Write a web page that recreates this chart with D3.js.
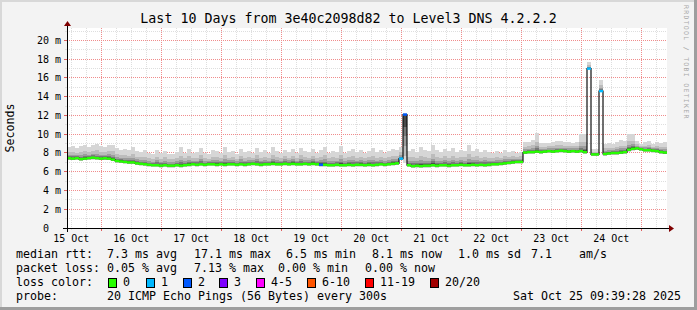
<!DOCTYPE html>
<html>
<head>
<meta charset="utf-8">
<script src="https://cdn.jsdelivr.net/npm/d3@7"></script>
<style>
body{margin:0;background:#f3f3f3;}
svg{display:block;}
text{font-family:"DejaVu Sans Mono",monospace;}
</style>
</head>
<body>
<svg id="chart" width="697" height="310"></svg>
<script>
var title = "Last 10 Days from 3e40c2098d82 to Level3 DNS 4.2.2.2";
var startTime = Date.UTC(2025, 9, 15, 10, 18);
var endTime = Date.UTC(2025, 9, 25, 10, 18);
var stepMinutes = 96;

// median rtt in ms, one value per step
var median = [
  7.45,7.4,7.45,7.35,7.4,7.45,7.5,7.45,7.4,7.45,7.4,7.3,7.15,7.1,7.05,
  7.0,7.0,6.9,6.85,6.8,6.75,6.7,6.7,6.65,6.7,6.65,6.65,6.7,6.65,6.7,
  6.75,6.8,6.75,6.8,6.75,6.8,6.8,6.75,6.8,6.75,6.8,6.8,6.75,6.8,6.75,
  6.8,6.85,6.8,6.75,6.8,6.8,6.85,6.8,6.8,6.85,6.8,6.85,6.8,6.8,6.85,
  6.8,6.85,6.8,6.75,6.75,6.7,6.7,6.75,6.7,6.7,6.75,6.7,6.75,6.75,6.7,
  6.75,6.7,6.75,6.8,6.75,6.8,6.85,6.9,7.4,12.1,6.7,6.6,6.65,6.6,6.65,
  6.65,6.7,6.65,6.7,6.7,6.65,6.7,6.7,6.75,6.7,6.7,6.75,6.7,6.75,6.7,
  6.75,6.8,6.8,6.85,6.9,6.95,7.0,7.05,7.05,8.05,8.1,8.1,8.15,8.1,8.15,
  8.2,8.15,8.2,8.25,8.2,8.15,8.2,8.15,8.2,8.1,17.0,7.85,7.85,14.6,7.9,
  7.95,8.0,8.0,8.05,8.1,8.35,8.45,8.5,8.4,8.3,8.3,8.25,8.2,8.1,8.05
];
// upper edge of the smoke (slowest pings)
var smokeTop = [
  8.6,8.7,8.5,8.7,8.9,8.6,8.8,9.0,8.7,8.6,8.8,8.9,8.5,8.3,8.4,
  8.3,8.6,8.2,8.1,8.3,8.0,7.9,8.3,8.0,8.2,7.9,7.9,8.1,8.6,8.0,
  8.4,8.0,8.1,8.5,8.0,7.9,8.3,8.2,8.0,8.6,8.1,8.2,7.9,8.4,8.1,
  8.2,8.0,8.5,8.1,8.3,8.0,8.6,8.2,8.0,8.3,8.1,8.4,8.0,8.5,8.2,
  8.1,8.4,8.0,8.3,8.6,8.0,8.2,8.1,8.7,8.0,8.2,8.4,8.1,8.3,8.0,
  8.2,8.5,8.1,8.3,8.0,8.2,8.4,8.3,8.6,12.3,8.2,8.4,8.1,8.6,8.3,
  8.2,8.9,8.3,8.1,8.4,8.2,8.5,8.1,8.3,8.2,8.8,8.2,8.4,8.1,8.3,
  8.1,8.0,8.2,8.0,8.3,8.1,8.2,8.0,8.1,9.2,9.2,9.4,10.1,9.1,9.1,
  9.1,9.2,9.3,9.3,9.2,9.2,9.1,9.2,10.0,10.0,17.7,8.4,8.4,15.8,9.0,
  9.1,9.0,9.2,9.4,9.3,10.0,10.0,9.3,9.0,9.2,9.3,9.0,9.2,9.1,9.2
];
// lower edge of the smoke (fastest pings)
var smokeLow = [
  7.2,7.2,7.25,7.15,7.2,7.25,7.3,7.25,7.2,7.2,7.2,7.1,6.95,6.9,6.85,
  6.8,6.8,6.7,6.65,6.6,6.55,6.5,6.5,6.45,6.5,6.45,6.45,6.5,6.45,6.5,
  6.55,6.6,6.55,6.6,6.55,6.6,6.6,6.55,6.6,6.55,6.6,6.6,6.55,6.6,6.55,
  6.6,6.65,6.6,6.55,6.6,6.6,6.65,6.6,6.6,6.65,6.6,6.65,6.6,6.6,6.65,
  6.6,6.65,6.6,6.55,6.55,6.5,6.5,6.55,6.5,6.5,6.55,6.5,6.55,6.55,6.5,
  6.55,6.5,6.55,6.6,6.55,6.6,6.65,6.7,7.2,6.9,6.5,6.4,6.45,6.4,6.45,
  6.45,6.5,6.45,6.5,6.5,6.45,6.5,6.5,6.55,6.5,6.5,6.55,6.5,6.55,6.5,
  6.55,6.6,6.6,6.65,6.7,6.75,6.8,6.85,6.85,7.85,7.9,7.9,7.95,7.9,7.95,
  8.0,7.95,8.0,8.05,8.0,7.95,8.0,7.95,8.0,7.9,17.0,7.65,7.65,14.6,7.7,
  7.75,7.8,7.8,7.85,7.9,8.15,8.25,8.3,8.2,8.1,8.1,8.05,8.0,7.9,7.85
];
// [step index, pings lost]
var lossEvents = [[63, 2], [83, 1], [84, 2], [130, 1], [133, 1]];

var lossLabels = ["0", "1", "2", "3", "4-5", "6-10", "11-19", "20/20"];
var lossColors = ["#26ff00", "#00b8ff", "#0059ff", "#7e00ff", "#ff00ff", "#ff5500", "#ff0000", "#a10000"];
var lossUpper = [0, 1, 2, 3, 5, 10, 19, 20];

var yMajorTicks = [2, 4, 6, 8, 10, 12, 14, 16, 18, 20];
var yMinorTicks = [1, 3, 5, 7, 9, 11, 13, 15, 17, 19, 21];

var rttStats = ["median rtt:", "7.3 ms avg", "17.1 ms max", "6.5 ms min", "8.1 ms now", "1.0 ms sd", "7.1", "am/s"];
var lossStats = ["packet loss:", "0.05 % avg", "7.13 % max", "0.00 % min", "0.00 % now"];
var probeInfo = ["probe:", "20 ICMP Echo Pings (56 Bytes) every 300s", "Sat Oct 25 09:39:28 2025"];

var svg = d3.select("#chart");
var W = 697, H = 310;
var X0 = 67, X1 = 667, Y0 = 228, Y1 = 28;

var x = d3.scaleUtc().domain([startTime, endTime]).range([X0, X1]);
var y = d3.scaleLinear().domain([0, 21.333]).range([Y0, Y1]);

//背景和边框
svg.append("rect").attr("width", W).attr("height", H).attr("fill", "#f3f3f3");
svg.append("rect").attr("x", 0).attr("y", 0).attr("width", W).attr("height", 2).attr("fill", "#d8d8d8");
svg.append("rect").attr("x", 0).attr("y", 0).attr("width", 2).attr("height", H).attr("fill", "#d8d8d8");
svg.append("rect").attr("x", W - 3).attr("y", 0).attr("width", 3).attr("height", H).attr("fill", "#9e9e9e");
svg.append("rect").attr("x", 0).attr("y", H - 3).attr("width", W).attr("height", 3).attr("fill", "#9e9e9e");

svg.append("rect")
  .attr("x", X0).attr("y", Y1)
  .attr("width", X1 - X0).attr("height", Y0 - Y1)
  .attr("fill", "#ffffff");

var grid = svg.append("g").attr("shape-rendering", "crispEdges");
function vx(t) { return Math.round(x(t)) + 0.5; }
function hy(v) { return Math.floor(y(v)) + 0.5; }

// minor grid, 6 hours / 1 ms
var sixHours = d3.utcHour.every(6).range(new Date(startTime), new Date(endTime))
  .filter(function (d) { return d.getUTCHours() !== 0; });
grid.selectAll(".vmin").data(sixHours).enter().append("line")
  .attr("x1", vx).attr("x2", vx).attr("y1", Y1).attr("y2", Y0)
  .attr("stroke", "#dedede").attr("stroke-dasharray", "1,1");
grid.selectAll(".hmin").data(yMinorTicks).enter().append("line")
  .attr("x1", X0).attr("x2", X1).attr("y1", hy).attr("y2", hy)
  .attr("stroke", "#dedede").attr("stroke-dasharray", "1,1");
grid.selectAll(".vmint").data(sixHours).enter().append("line")
  .attr("x1", vx).attr("x2", vx).attr("y1", Y0).attr("y2", Y0 + 2)
  .attr("stroke", "#dedede");
grid.selectAll(".hmint").data(yMinorTicks).enter().append("line")
  .attr("x1", X0 - 2).attr("x2", X0).attr("y1", hy).attr("y2", hy)
  .attr("stroke", "#dedede");

// major grid, days / 2 ms
var days = d3.utcDay.range(new Date(startTime), new Date(endTime));
grid.selectAll(".vmaj").data(days).enter().append("line")
  .attr("x1", vx).attr("x2", vx).attr("y1", Y1).attr("y2", Y0)
  .attr("stroke", "#f08c8c").attr("stroke-dasharray", "1,1");
grid.selectAll(".hmaj").data(yMajorTicks).enter().append("line")
  .attr("x1", X0).attr("x2", X1).attr("y1", hy).attr("y2", hy)
  .attr("stroke", "#f08c8c").attr("stroke-dasharray", "1,1");
grid.selectAll(".vmajt").data(days).enter().append("line")
  .attr("x1", vx).attr("x2", vx).attr("y1", Y0).attr("y2", Y0 + 3)
  .attr("stroke", "#e06060");
grid.selectAll(".hmajt").data(yMajorTicks).enter().append("line")
  .attr("x1", X0 - 3).attr("x2", X0).attr("y1", hy).attr("y2", hy)
  .attr("stroke", "#e06060");

//烟雾
var samples = median.map(function (m, i) {
  return {
    t0: startTime + i * stepMinutes * 60000,
    t1: startTime + (i + 1) * stepMinutes * 60000,
    med: m, top: smokeTop[i], low: smokeLow[i], lost: 0
  };
});
lossEvents.forEach(function (e) { samples[e[0]].lost = e[1]; });

var bands = [
  { up: 1.0, down: 1.0, color: "#d6d6d6" },
  { up: 0.55, down: 0.85, color: "#bcbcbc" },
  { up: 0.32, down: 0.65, color: "#9c9c9c" },
  { up: 0.18, down: 0.45, color: "#787878" },
  { up: 0.09, down: 0.25, color: "#4a4a4a" }
];
var smoke = svg.append("g").attr("shape-rendering", "crispEdges");
bands.forEach(function (b) {
  smoke.append("g").selectAll("rect").data(samples).enter().append("rect")
    .attr("x", function (d) { return x(d.t0); })
    .attr("width", function (d) { return x(d.t1) - x(d.t0); })
    .attr("y", function (d) { return y(d.med + (d.top - d.med) * b.up); })
    .attr("height", function (d) {
      return Math.max(0, y(d.med - (d.med - d.low) * b.down) - y(d.med + (d.top - d.med) * b.up));
    })
    .attr("fill", b.color);
});

//中位线
var stepPts = samples.map(function (d) { return [x(d.t0), y(d.med)]; });
stepPts.push([x(samples[samples.length - 1].t1), y(samples[samples.length - 1].med)]);
svg.append("path")
  .attr("d", d3.line().curve(d3.curveStepAfter)(stepPts))
  .attr("fill", "none")
  .attr("stroke", "#111")
  .attr("stroke-width", 1.2);

function lossColor(n) {
  for (var k = 0; k < lossUpper.length; k++) {
    if (n <= lossUpper[k]) return lossColors[k];
  }
  return lossColors[lossColors.length - 1];
}
svg.append("g").selectAll("rect").data(samples).enter().append("rect")
  .attr("x", function (d) { return x(d.t0); })
  .attr("width", function (d) { return x(d.t1) - x(d.t0); })
  .attr("y", function (d) { return y(d.med) - 1.2; })
  .attr("height", 2.4)
  .attr("fill", function (d) { return lossColor(d.lost); });

//坐标轴
svg.append("line").attr("x1", X0 - 4).attr("x2", X1 + 4).attr("y1", Y0 + 0.5).attr("y2", Y0 + 0.5)
  .attr("stroke", "#000").attr("shape-rendering", "crispEdges");
svg.append("line").attr("x1", X0 + 0.5).attr("x2", X0 + 0.5).attr("y1", Y0 + 4).attr("y2", Y1 - 4)
  .attr("stroke", "#000").attr("shape-rendering", "crispEdges");
svg.append("path")
  .attr("d", "M" + (X1 + 2) + "," + (Y0 - 3) + "L" + (X1 + 7) + "," + (Y0 + 0.5) + "L" + (X1 + 2) + "," + (Y0 + 4) + "Z")
  .attr("fill", "#7f0000");
svg.append("path")
  .attr("d", "M" + (X0 - 3) + "," + (Y1 - 2) + "L" + (X0 + 0.5) + "," + (Y1 - 7) + "L" + (X0 + 4) + "," + (Y1 - 2) + "Z")
  .attr("fill", "#7f0000");

var fmtDay = d3.utcFormat("%d %b");
svg.append("g").selectAll("text").data(days.concat([d3.utcDay.floor(new Date(startTime))])
    .map(function (d) { return d3.utcHour.offset(d, 12); })
    .filter(function (d) { return +d > startTime && +d < endTime; }))
  .enter().append("text")
  .attr("x", function (d) { return x(d); })
  .attr("y", 242)
  .attr("text-anchor", "middle")
  .style("font-size", "10px")
  .text(fmtDay);

svg.append("g").selectAll("text").data([0].concat(yMajorTicks)).enter().append("text")
  .attr("x", 61)
  .attr("y", function (d) { return Math.floor(y(d)) + 4; })
  .attr("text-anchor", "end")
  .attr("xml:space", "preserve")
  .style("font-size", "10px")
  .style("white-space", "pre")
  .text(function (d) { return d === 0 ? "0  " : d + " m"; });

svg.append("text")
  .attr("transform", "translate(14,128) rotate(-90)")
  .attr("text-anchor", "middle")
  .style("font-size", "11.63px")
  .text("Seconds");

svg.append("text")
  .attr("x", 348.5).attr("y", 23)
  .attr("text-anchor", "middle")
  .style("font-size", "13.3px")
  .text(title);

svg.append("text")
  .attr("transform", "translate(684,5) rotate(90)")
  .style("font-size", "6.5px")
  .style("letter-spacing", "1.3px")
  .attr("fill", "#a8a8a8")
  .text("RRDTOOL / TOBI OETIKER");

//图例
var legend = svg.append("g").style("font-size", "11.63px").attr("fill", "#000");
var rttX = [16, 107, 194, 286, 372, 458, 531, 579];
var lossX = [16, 107, 194, 278, 365];
var probeX = [16, 107, 513];
function legendRow(items, xs, baseline) {
  legend.append("g").selectAll("text").data(items).enter().append("text")
    .attr("x", function (d, i) { return xs[i]; })
    .attr("y", baseline)
    .attr("xml:space", "preserve")
    .style("white-space", "pre")
    .text(function (d) { return d; });
}
legendRow(rttStats, rttX, 258);
legendRow(lossStats, lossX, 272);
legendRow(probeInfo, probeX, 300);

legend.append("text").attr("x", 16).attr("y", 286).text("loss color:");
var boxX = [108, 146, 183, 219, 256, 307, 365, 430];
var sw = legend.append("g").selectAll("g").data(lossLabels).enter().append("g");
sw.append("rect")
  .attr("x", function (d, i) { return boxX[i] + 0.5; })
  .attr("y", 278.5)
  .attr("width", 8).attr("height", 9)
  .attr("fill", function (d, i) { return lossColors[i]; })
  .attr("stroke", "#000")
  .attr("shape-rendering", "crispEdges");
sw.append("text")
  .attr("x", function (d, i) { return boxX[i] + 15; })
  .attr("y", 286)
  .text(function (d) { return d; });
</script>
</body>
</html>
